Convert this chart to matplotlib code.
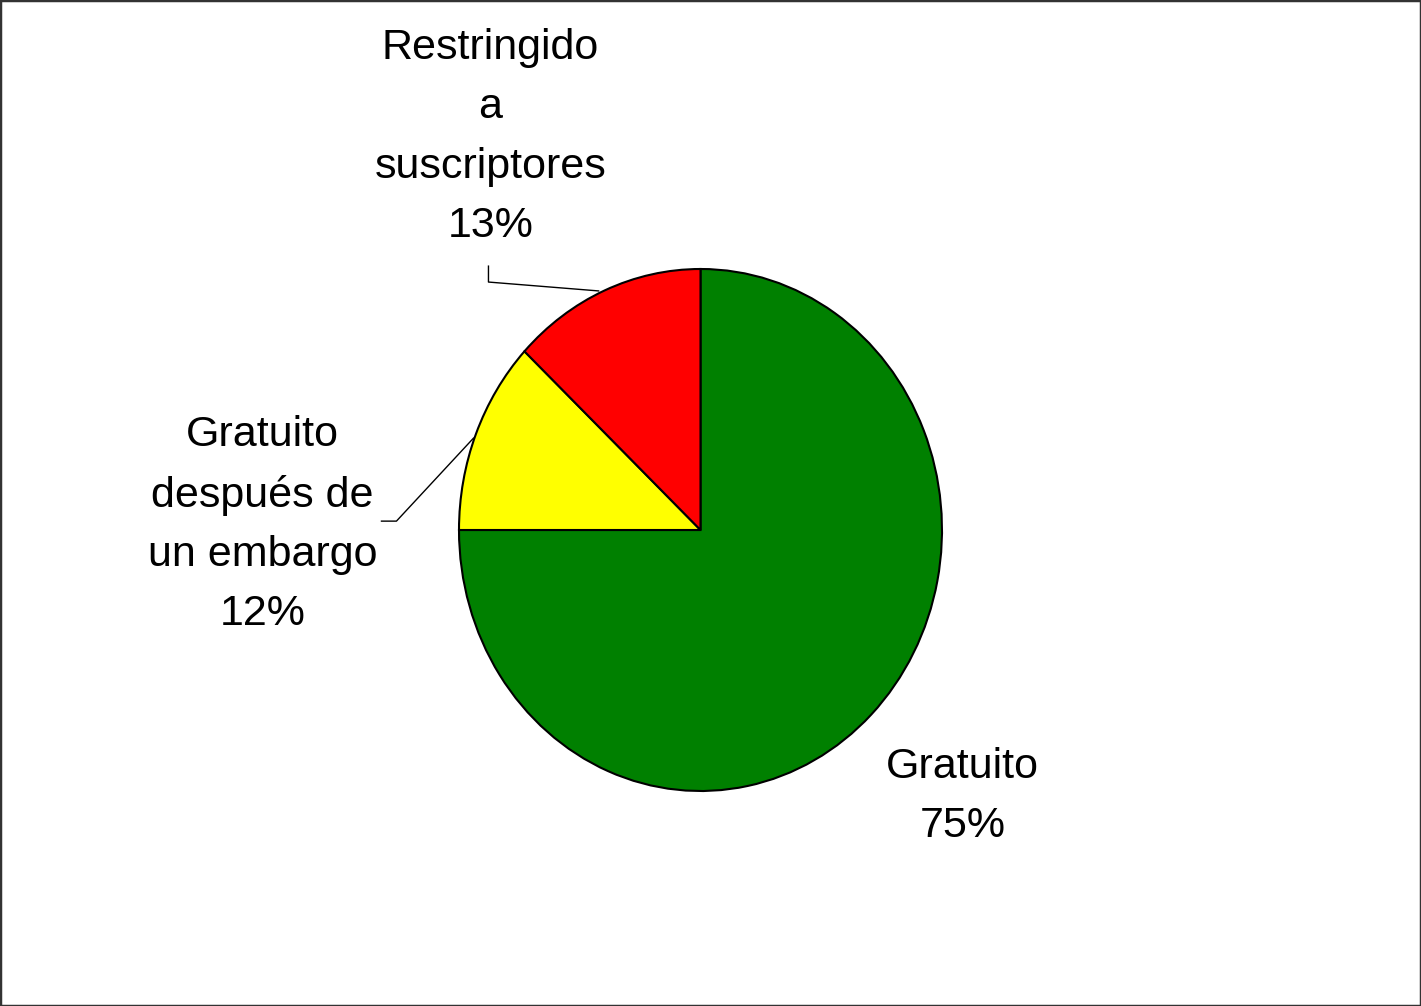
import matplotlib.pyplot as plt
from matplotlib.patches import Rectangle

plt.rcParams['font.family'] = ['Liberation Sans', 'DejaVu Sans']

labels = ['Gratuito', 'Gratuito\ndespués de\nun embargo', 'Restringido\na\nsuscriptores']
values = [75, 12, 13]
colors = ['#008000', '#FFFF00', '#FF0000']

W, H = 1421, 1006
fig = plt.figure(figsize=(W / 100, H / 100), dpi=100)
# pie box in pixels: x 459..942, y 269..791
ax = fig.add_axes([459 / W, (H - 791) / H, 483 / W, 522 / H])
ax.pie(values, colors=colors, startangle=90, counterclock=False, radius=1,
       wedgeprops={'edgecolor': 'black', 'linewidth': 1.5})
ax.set_aspect('auto')
ax.set_xlim(-1, 1)
ax.set_ylim(-1, 1)
ax.axis('off')

txt = [f'{l}\n{v}%' for l, v in zip(labels, values)]
pos = [(1.085, -1.02), (-1.814, 0.02), (-0.87, 1.506)]
for t, (x, y) in zip(txt, pos):
    ax.text(x, y, t, ha='center', va='center', fontsize=31, linespacing=1.62,
            clip_on=False)

# leader lines
ax.plot([-0.878, -0.878, -0.422], [1.011, 0.950, 0.916], color='black', lw=1, clip_on=False)
ax.plot([-1.321, -1.259, -0.940], [0.034, 0.034, 0.352], color='black', lw=1, clip_on=False)

fig.patches.append(Rectangle((0, 0), 1, 1, transform=fig.transFigure, fill=False,
                             edgecolor='#333333', linewidth=2.5))
fig.savefig('out.png', dpi=100)
